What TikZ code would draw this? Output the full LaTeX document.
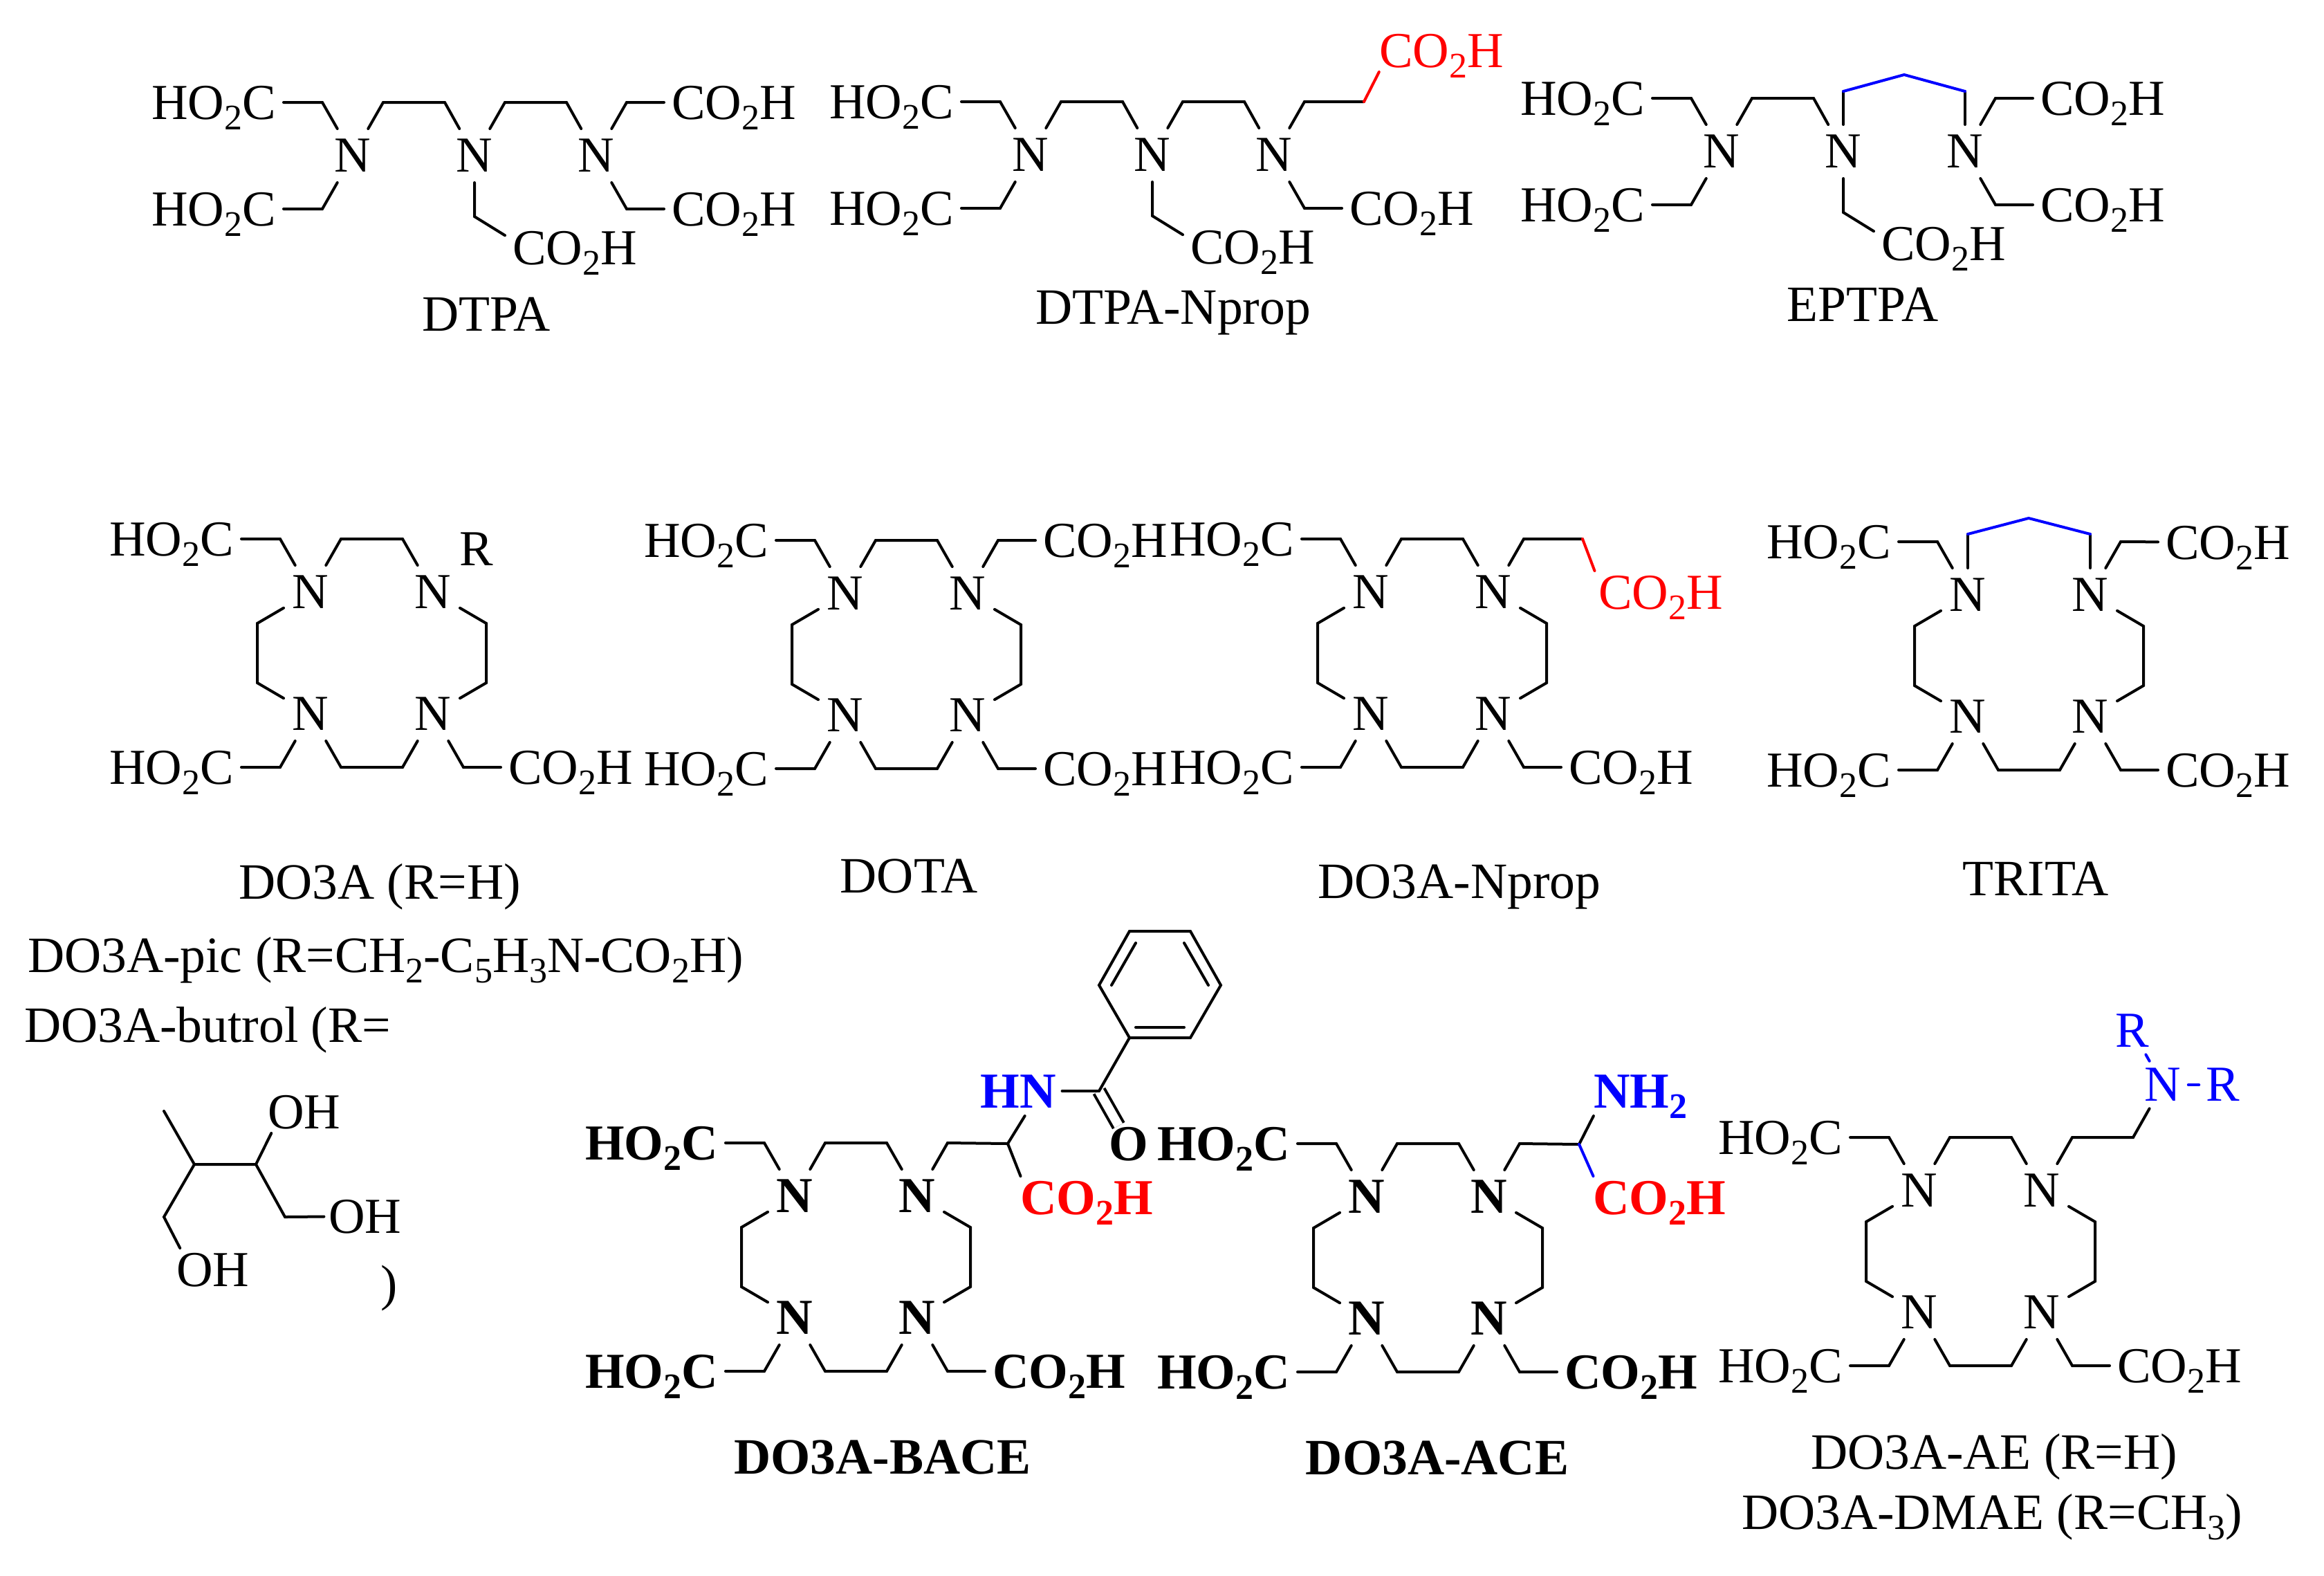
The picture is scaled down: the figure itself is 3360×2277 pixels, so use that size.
\documentclass[tikz,border=0pt]{standalone}
\usepackage{fontspec}
\setmainfont{Liberation Serif}
\newcommand{\plainf}{\fontsize{36.4}{40}\selectfont}
\newcommand{\heavyf}{\fontsize{36.4}{40}\selectfont\bfseries}
\newcommand{\namef}{\fontsize{36.8}{40}\selectfont}
\newcommand{\lowsub}[1]{\raisebox{-7.5pt}{\fontsize{26}{26}\selectfont #1}}
\newcommand{\hoc}{HO\lowsub{2}C}
\newcommand{\coh}{CO\lowsub{2}H}
\tikzset{
  atom/.style={minimum size=37pt,inner sep=0pt},
  lbl/.style={inner xsep=4.5pt,inner ysep=2.5pt,text height=24pt,text depth=0pt},
  molname/.style={anchor=base,inner sep=0pt,font=\namef},
  plain/.style={},
  heavy/.style={every node/.append style={font=\heavyf}},
  pics/ring/.style={code={
    \begin{scope}[#1]
      \node[atom] (-nw) at (0,0) {N};
      \node[atom] (-ne) at (177,0) {N};
      \node[atom] (-sw) at (0,176) {N};
      \node[atom] (-se) at (177,176) {N};
      \coordinate (-t1) at (44,-77);
      \coordinate (-t2) at (133,-77);
      \coordinate (-b1) at (44,253);
      \coordinate (-b2) at (133,253);
      \coordinate (-l1) at (-77,45);
      \coordinate (-l2) at (-77,131);
      \coordinate (-r1) at (254,45);
      \coordinate (-r2) at (254,131);
      \coordinate (-va) at (-44,-77);
      \coordinate (-vb) at (-44,253);
      \coordinate (-vc) at (221,253);
      \coordinate (-vd) at (221,-77);
      \node[lbl,anchor=east] (-ha) at (-100,-77) {\hoc};
      \node[lbl,anchor=east] (-hb) at (-100,253) {\hoc};
      \node[lbl,anchor=west] (-cc) at (275,253) {\coh};
      \draw (-sw) -- (-b1) -- (-b2) -- (-se);
      \draw (-nw) -- (-l1) -- (-l2) -- (-sw);
      \draw (-ne) -- (-r1) -- (-r2) -- (-se);
      \draw (-ha) -- (-va) -- (-nw);
      \draw (-hb) -- (-vb) -- (-sw);
      \draw (-cc) -- (-vc) -- (-se);
    \end{scope}
  }},
  pics/chain/.style={code={
    \node[atom] (-a) at (0,0) {N};
    \node[atom] (-b) at (176,0) {N};
    \node[atom] (-c) at (352,0) {N};
    \coordinate (-va) at (-44,-77);
    \coordinate (-vb) at (-44,77);
    \coordinate (-vc) at (396,77);
    \coordinate (-vd) at (396,-77);
    \coordinate (-vk) at (176,88);
    \coordinate (-t1) at (44,-77);
    \coordinate (-t2) at (133,-77);
    \coordinate (-t3) at (220,-77);
    \coordinate (-t4) at (309,-77);
    \node[lbl,anchor=east] (-ha) at (-100,-77) {\hoc};
    \node[lbl,anchor=east] (-hb) at (-100,77) {\hoc};
    \node[lbl,anchor=west] (-cc) at (450,77) {\coh};
    \node[lbl,anchor=west] (-ck) at (220,133) {\coh};
    \draw (-a) -- (-t1) -- (-t2) -- (-b);
    \draw (-ha) -- (-va) -- (-a);
    \draw (-hb) -- (-vb) -- (-a);
    \draw (-cc) -- (-vc) -- (-c);
    \draw (-b) -- (-vk) -- (-ck.170);
  }}
}
\begin{document}
\begin{tikzpicture}[x=0.5pt,y=-0.5pt,font=\plainf,line width=2pt,line cap=round]
  \useasboundingbox (0,0) rectangle (3360,2277);
  % top row
  \pic (dtpa) at (510,225) {chain};
  \pic (nprop) at (1490,224) {chain};
  \pic (eptpa) at (2489,219) {chain};
  \foreach \m in {dtpa,nprop} \draw (\m-b) -- (\m-t3) -- (\m-t4) -- (\m-c);
  \node[lbl,anchor=west] (dtpa-cd) at (960,148) {\coh};
  \draw (dtpa-c) -- (dtpa-vd) -- (dtpa-cd);
  \node[lbl,anchor=west] (eptpa-cd) at (2939,142) {\coh};
  \draw (eptpa-c) -- (eptpa-vd) -- (eptpa-cd);
  \node[lbl,anchor=west,red] (nprop-cd) at (1983,73) {\coh};
  \coordinate (nprop-x) at (1972,147);
  \draw (nprop-c) -- (nprop-vd) -- (nprop-x);
  \draw[red] (nprop-x) -- (nprop-cd.199);
  \coordinate (eptpa-p1) at (2665,132);
  \coordinate (eptpa-p2) at (2753,108);
  \coordinate (eptpa-p3) at (2841,132);
  \draw (eptpa-b) -- (eptpa-p1);
  \draw (eptpa-c) -- (eptpa-p3);
  \draw[blue] (eptpa-p1) -- (eptpa-p2) -- (eptpa-p3);
  \node[molname] (dtpa-name) at (703,478) {DTPA};
  \node[molname] (nprop-name) at (1696,468) {DTPA-Nprop};
  \node[molname] (eptpa-name) at (2693,464) {EPTPA};
  % middle row
  \pic (do3a) at (449,856) {ring=plain};
  \pic (dota) at (1222,858) {ring=plain};
  \pic (dnprop) at (1982,856) {ring=plain};
  \pic (trita) at (2845,860) {ring=plain};
  \foreach \m in {do3a,dota,dnprop}
    \draw (\m-nw) -- (\m-t1) -- (\m-t2) -- (\m-ne);
  \node (do3a-r) at (689,794) {R};
  \node[lbl,anchor=west] (dota-cd) at (1497,781) {\coh};
  \draw (dota-ne) -- (dota-vd) -- (dota-cd);
  \node[lbl,anchor=west,red] (dnprop-cd) at (2300,856) {\coh};
  \coordinate (dnprop-x) at (2288,779);
  \draw (dnprop-ne) -- (dnprop-vd) -- (dnprop-x);
  \draw[red] (dnprop-x) -- (dnprop-cd.162);
  \node[lbl,anchor=west] (trita-cd) at (3120,784) {\coh};
  \draw (trita-ne) -- (trita-vd) -- (trita-cd);
  \coordinate (trita-p1) at (2845,772);
  \coordinate (trita-p2) at (2933,749);
  \coordinate (trita-p3) at (3022,772);
  \draw (trita-nw) -- (trita-p1);
  \draw (trita-ne) -- (trita-p3);
  \draw[blue] (trita-p1) -- (trita-p2) -- (trita-p3);
  \node[molname] (do3a-name) at (549,1299) {DO3A (R=H)};
  \node[molname] (dota-name) at (1314,1290) {DOTA};
  \node[molname] (dnprop-name) at (2110,1298) {DO3A-Nprop};
  \node[molname] (trita-name) at (2943,1294) {TRITA};
  % butrol
  \node[anchor=base west,inner sep=0pt,font=\namef] (pic-name) at (38,1405)
    {DO3A-pic (R=CH\lowsub{2}-C\lowsub{5}H\lowsub{3}N-CO\lowsub{2}H)};
  \node[anchor=base west,inner sep=0pt,font=\namef] (butrol-name) at (33,1506) {DO3A-butrol (R=};
  \node[anchor=base,inner sep=0pt] (butrol-end) at (563,1879) {)};
  \node[lbl,inner xsep=2.5pt] (oh1) at (440,1607) {OH};
  \node[lbl,inner xsep=2.5pt] (oh2) at (528,1758) {OH};
  \node[lbl,inner xsep=2.5pt] (oh3) at (308,1835) {OH};
  \coordinate (bu1) at (237,1606);
  \coordinate (bu2) at (281,1683);
  \coordinate (bu3) at (370,1683);
  \coordinate (bu4) at (412,1759);
  \coordinate (bu5) at (237,1759);
  \draw (bu1) -- (bu2) -- (bu3) -- (oh1.213);
  \draw (bu3) -- (bu4) -- (oh2);
  \draw (bu2) -- (bu5) -- (oh3.147);
  % bottom row
  \pic (bace) at (1149,1729) {ring=heavy};
  \pic (ace) at (1976,1730) {ring=heavy};
  \pic (ae) at (2775,1721) {ring=plain};
  \foreach \m in {bace,ace,ae}
    \draw (\m-nw) -- (\m-t1) -- (\m-t2) -- (\m-ne);
  \coordinate (bace-x) at (1457,1653);
  \coordinate (bace-co) at (1589,1577);
  \node[lbl,font=\heavyf,text=blue,inner xsep=3.5pt,inner ysep=5pt] (bace-hn) at (1472,1577) {HN};
  \node[lbl,font=\heavyf,inner xsep=0pt,inner ysep=0pt] (bace-o) at (1632,1653) {O};
  \node[lbl,font=\heavyf,anchor=west,red] (bace-acid) at (1464,1731) {\coh};
  \draw[double,double distance=6.5pt,line cap=butt] (bace-co) -- (bace-o);
  \draw (bace-ne) -- (bace-vd) -- (bace-x) -- (bace-hn.-75);
  \draw (bace-x) -- (bace-acid.162);
  \draw (bace-hn) -- (bace-co);
  \coordinate (ph1) at (1633,1500);
  \coordinate (ph2) at (1589,1424);
  \coordinate (ph3) at (1633,1346);
  \coordinate (ph4) at (1721,1346);
  \coordinate (ph5) at (1765,1424);
  \coordinate (ph6) at (1721,1500);
  \draw (bace-co) -- (ph1);
  \draw (ph1) -- (ph2) -- (ph3) -- (ph4) -- (ph5) -- (ph6) -- cycle;
  \coordinate (in1) at (1642,1485);
  \coordinate (in2) at (1712,1485);
  \coordinate (in3) at (1607,1424);
  \coordinate (in4) at (1642,1363);
  \coordinate (in5) at (1747,1424);
  \coordinate (in6) at (1712,1363);
  \draw (in1) -- (in2);
  \draw (in3) -- (in4);
  \draw (in5) -- (in6);
  \coordinate (ace-x) at (2283,1654);
  \node[lbl,font=\heavyf,text=blue,anchor=west,inner xsep=3.5pt,inner ysep=5pt] (ace-nh) at (2295,1577) {NH\lowsub{2}};
  \node[lbl,font=\heavyf,anchor=west,red] (ace-acid) at (2292,1731) {\coh};
  \draw (ace-ne) -- (ace-vd) -- (ace-x) -- (ace-nh.208);
  \draw[blue] (ace-x) -- (ace-acid.162);
  \coordinate (ae-x) at (3084,1644);
  \node[inner sep=4.25pt,text=blue] (ae-n) at (3127,1568) {N};
  \node[inner sep=4.25pt,text=blue] (ae-r1) at (3083,1490) {R};
  \node[inner sep=4.25pt,text=blue] (ae-r2) at (3214,1568) {R};
  \draw (ae-ne) -- (ae-vd) -- (ae-x) -- (ae-n);
  \draw[blue] (ae-n) -- (ae-r1);
  \draw[blue] (ae-n) -- (ae-r2);
  \node[molname,font=\fontsize{36.8}{40}\selectfont\bfseries] (bace-name) at (1276,2130) {DO3A-BACE};
  \node[molname,font=\fontsize{36.8}{40}\selectfont\bfseries] (ace-name) at (2078,2131) {DO3A-ACE};
  \node[molname] (ae-name) at (2883,2123) {DO3A-AE (R=H)};
  \node[molname] (dmae-name) at (2880,2210) {DO3A-DMAE (R=CH\lowsub{3})};
\end{tikzpicture}
\end{document}
